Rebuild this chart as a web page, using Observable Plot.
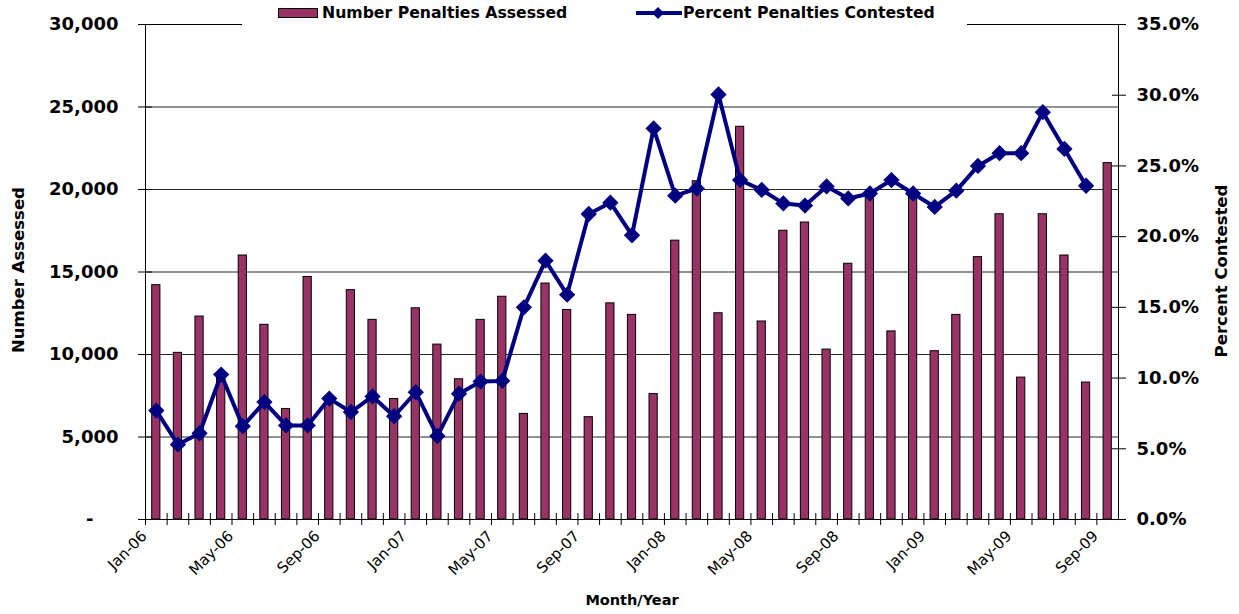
<!DOCTYPE html>
<html><head><meta charset="utf-8">
<script src="https://cdn.jsdelivr.net/npm/d3@7"></script>
<script src="https://cdn.jsdelivr.net/npm/@observablehq/plot@0.6"></script>
<style>
body{margin:0;background:#fff;}
#wrap{position:relative;width:1239px;height:614px;overflow:hidden;font-family:"DejaVu Sans",sans-serif;}
#legend{position:absolute;left:242px;top:0;width:725px;height:27px;background:#fff;font:bold 15.7px "DejaVu Sans";color:#000;}
.lg{position:absolute;white-space:nowrap;}
.ttl{position:absolute;white-space:nowrap;font-weight:bold;color:#000;transform:translate(-50%,-50%);}
</style></head><body>
<div id="wrap"><div id="chart"></div>
<div id="legend">
  <div class="lg" style="left:36px;top:8px;width:40px;height:10px;background:#993366;border:1.5px solid #000;box-sizing:border-box;"></div>
  <div class="lg" style="left:80px;top:3px;line-height:20px;">Number Penalties Assessed</div>
  <svg class="lg" style="left:394px;top:5px;" width="46" height="16"><line x1="0" x2="46" y1="8" y2="8" stroke="#000080" stroke-width="4"/><path d="M22 2 L28 8 L22 14 L16 8 Z" fill="#000080"/></svg>
  <div class="lg" style="left:441px;top:3px;line-height:20px;">Percent Penalties Contested</div>
</div>
<div class="ttl" style="left:18px;top:270px;font-size:16.5px;transform:translate(-50%,-50%) rotate(-90deg);">Number Assessed</div>
<div class="ttl" style="left:1221px;top:271px;font-size:16.5px;transform:translate(-50%,-50%) rotate(-90deg);">Percent Contested</div>
<div class="ttl" style="left:632px;top:600px;font-size:14.5px;">Month/Year</div>
</div>
<script>
const months = ["Jan-06","Feb-06","Mar-06","Apr-06","May-06","Jun-06","Jul-06","Aug-06","Sep-06","Oct-06","Nov-06","Dec-06",
"Jan-07","Feb-07","Mar-07","Apr-07","May-07","Jun-07","Jul-07","Aug-07","Sep-07","Oct-07","Nov-07","Dec-07",
"Jan-08","Feb-08","Mar-08","Apr-08","May-08","Jun-08","Jul-08","Aug-08","Sep-08","Oct-08","Nov-08","Dec-08",
"Jan-09","Feb-09","Mar-09","Apr-09","May-09","Jun-09","Jul-09","Aug-09","Sep-09"];
const assessed = [14200,10100,12300,8800,16000,11800,6700,14700,7400,13900,12100,7300,
12800,10600,8500,12100,13500,6400,14300,12700,6200,13100,12400,7600,
16900,20500,12500,23800,12000,17500,18000,10300,15500,19800,11400,19900,
10200,12400,15900,18500,8600,18500,16000,8300,21600];
const contestedPct = [7.7,5.3,6.1,10.25,6.6,8.3,6.65,6.65,8.55,7.6,8.7,7.3,
9.0,5.9,8.9,9.75,9.8,15.0,18.3,15.9,21.6,22.4,20.1,27.65,
22.9,23.4,30.05,24.0,23.3,22.35,22.2,23.55,22.7,23.05,24.0,23.05,
22.1,23.25,25.0,25.9,25.9,28.8,26.2,23.6];
const leftTicks = [0,5000,10000,15000,20000,25000,30000];
const rightTicks = [0,5,10,15,20,25,30,35];
const labelMonths = months.filter((d,i)=>i%4===0);

const leftMax = 30000, rightMax = 35;
const K = leftMax/rightMax;
const barData = months.map((m,i)=>({month:m, n:assessed[i]}));
const lineData = contestedPct.map((p,i)=>({month:months[i], v:p*K}));
const W=1239,H=614,mL=145,mR=121,mT=24,mB=95;
const step = (W-mL-mR)/months.length;

const chart = Plot.plot({
  width:W, height:H, marginLeft:mL, marginRight:mR, marginTop:mT, marginBottom:mB,
  style:{fontFamily:"DejaVu Sans", background:"white", color:"#000", overflow:"visible"},
  x:{type:"band", domain:months, paddingInner:0.62, paddingOuter:0.31, round:false},
  y:{domain:[0,leftMax]},
  marks:[
    Plot.gridY(leftTicks.slice(1), {stroke:"#000", strokeOpacity:0.85}),
    Plot.barY(barData, {x:"month", y:"n", fill:"#993366", stroke:"#000", strokeWidth:1}),
    Plot.frame({stroke:"#000"}),
    Plot.line(lineData, {x:"month", y:"v", stroke:"#000080", strokeWidth:4}),
    Plot.dot(lineData, {x:"month", y:"v", symbol:"square", r:6.5, rotate:45, fill:"#000080", stroke:null}),
    Plot.axisY({ticks:leftTicks, tickFormat:d=> d===0 ? "-\u00a0\u00a0\u00a0\u00a0" : d3.format(",")(d),
      tickSize:14, dx:7, tickPadding:20, fontSize:18, fontWeight:"bold", label:null}),
    Plot.axisY({anchor:"right", ticks:rightTicks.map(p=>p*K), tickFormat:d=>(d/K).toFixed(1)+"%",
      tickSize:14, dx:-7, tickPadding:11, fontSize:18, fontWeight:"bold", label:null}),
    Plot.axisX({ticks:months, tickFormat:()=>"", tickSize:12, dy:-6, dx:-step/2, label:null}),
    Plot.axisX({ticks:labelMonths, tickSize:0, tickRotate:-45, tickPadding:14, dx:-12, fontSize:15, label:null})
  ]
});
document.getElementById("chart").appendChild(chart);
</script>
</body></html>
